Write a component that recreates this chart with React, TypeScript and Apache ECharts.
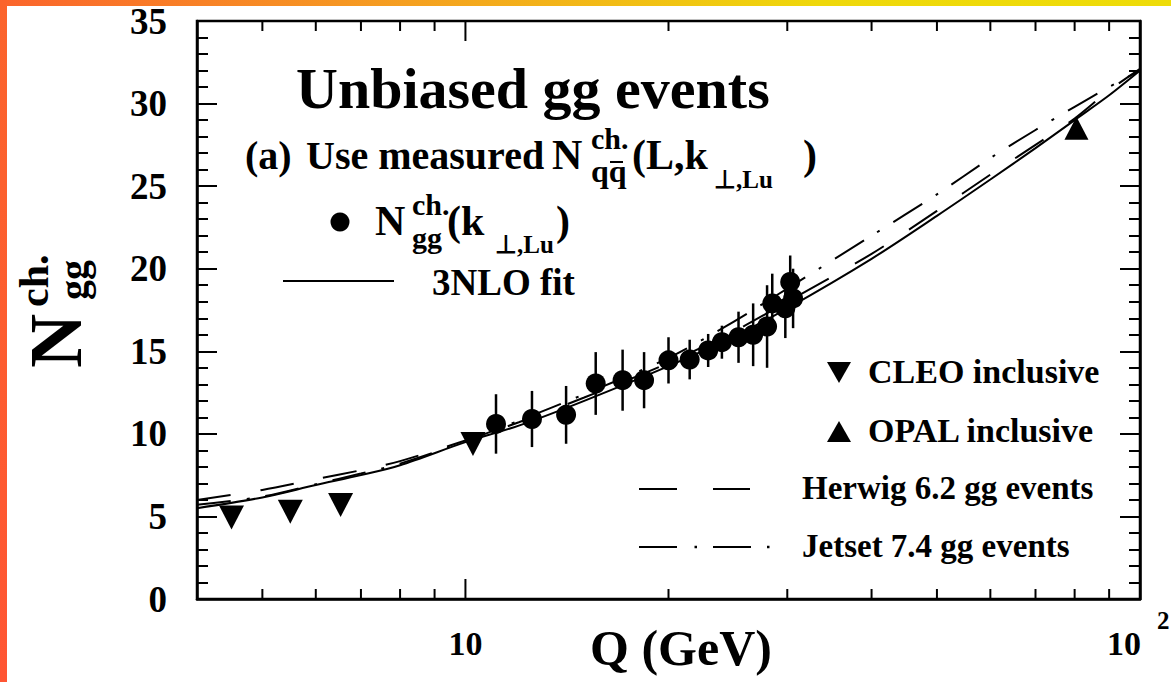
import React, { useEffect, useRef } from "react";
import * as echarts from "echarts";

// ---- data ----
const fitQ = [4, 5, 6, 7, 8, 10, 12, 15, 20, 25, 30, 40, 50, 60, 70, 80, 90, 100];
const fitN = [5.5, 6.15, 6.9, 7.5, 8.1, 9.5, 10.5, 12.0, 14.1, 15.9, 17.6, 20.6, 23.2, 25.4, 27.3, 29.0, 30.5, 32.0];
const herwigN = [6.0, 6.6, 7.25, 7.8, 8.35, 9.6, 10.7, 12.2, 14.3, 16.2, 18.0, 20.9, 23.5, 25.7, 27.5, 29.1, 30.8, 32.1];
const jetsetN = [5.7, 6.2, 6.95, 7.6, 8.2, 9.55, 10.8, 12.4, 14.6, 16.8, 18.8, 22.0, 24.5, 26.7, 28.4, 29.8, 31.0, 32.0];

const ggQ = [11.1, 12.55, 14.1, 15.6, 17.1, 18.4, 20.0, 21.5, 22.9, 24.0, 25.4, 26.7, 28.0, 28.5, 29.8, 30.3, 30.6];
const ggN = [10.6, 10.9, 11.15, 13.05, 13.25, 13.25, 14.45, 14.5, 15.05, 15.55, 15.85, 16.0, 16.5, 17.9, 17.6, 19.2, 18.2];
const ggErr = [1.8, 1.7, 1.75, 1.9, 1.85, 1.7, 1.4, 1.2, 1.0, 1.0, 1.55, 1.9, 2.5, 1.8, 1.8, 1.6, 1.8];

const cleoQ = [4.5, 5.5, 6.53, 10.26];
const cleoN = [4.94, 5.29, 5.69, 9.39];
const opalQ = [80.5];
const opalN = [28.5];

const xMinorTicks = [5, 6, 7, 8, 9, 20, 30, 40, 50, 60, 70, 80, 90];
const xMajorTicks = [10];

const FONT = '"Liberation Serif", "Times New Roman", serif';

function txt(text: string, x: number, y: number, size: number, extra: any = {}) {
  return {
    type: "text",
    x,
    y,
    silent: true,
    z: 100,
    style: {
      text,
      fill: "#000",
      fontFamily: FONT,
      fontWeight: "bold",
      fontSize: size,
      textAlign: "left",
      textVerticalAlign: "middle",
      ...extra,
    },
  };
}
function seg(x1: number, y1: number, x2: number, y2: number, w = 2) {
  return {
    type: "line",
    silent: true,
    z: 100,
    shape: { x1, y1, x2, y2 },
    style: { stroke: "#000", lineWidth: w },
  };
}

export default function App() {
  const ref = useRef<HTMLDivElement>(null);
  useEffect(() => {
    const chart = echarts.init(ref.current!, null, { renderer: "svg" });
    const black = "#000";
    const labelFont = { fontFamily: FONT, fontWeight: "bold", fontSize: 34, color: black };
    const yAxisCommon = {
      type: "value",
      min: 0,
      max: 35,
      interval: 5,
      splitLine: { show: false },
      axisLine: { show: true, lineStyle: { color: black, width: 2.5 } },
      axisTick: { show: true, inside: true, length: 20, lineStyle: { color: black, width: 2 } },
      minorTick: { show: true, splitNumber: 5, length: 11, lineStyle: { color: black, width: 2 } },
    };
    const option: any = {
      animation: false,
      backgroundColor: "#fff",
      grid: {
        left: 197,
        right: 31,
        top: 21,
        bottom: 83,
        containLabel: false,
        outerBoundsMode: "none",
        show: true,
        borderColor: black,
        borderWidth: 2.5,
        backgroundColor: "transparent",
      },
      xAxis: {
        type: "log",
        logBase: 10,
        min: 4,
        max: 100,
        splitLine: { show: false },
        axisLine: { show: true, lineStyle: { color: black, width: 2.5 } },
        axisTick: { show: false },
        minorTick: { show: false },
        axisLabel: {
          margin: 27,
          ...labelFont,
          showMinLabel: true,
          showMaxLabel: true,
          formatter: (v: number) =>
            Math.abs(v - 10) < 1e-6 ? "{n|10}" : Math.abs(v - 100) < 1e-6 ? "{m|10}" : "",
          rich: {
            n: { ...labelFont },
            m: { ...labelFont, padding: [0, 32, 0, 0] },
          },
        },
      },
      yAxis: [
        {
          ...yAxisCommon,
          position: "left",
          axisLabel: {
            margin: 30,
            color: black,
            fontFamily: FONT,
            fontWeight: "bold",
            fontSize: 37,
          },
        },
        {
          ...yAxisCommon,
          position: "right",
          axisLabel: { show: false },
        },
      ],
      series: [
        {
          name: "3NLO fit",
          type: "line",
          data: fitQ.map((q, i) => [q, fitN[i]]),
          smooth: 0.3,
          showSymbol: false,
          symbol: "none",
          lineStyle: { color: black, width: 2 },
          z: 3,
        },
        {
          name: "Herwig 6.2 gg events",
          type: "line",
          data: fitQ.map((q, i) => [q, herwigN[i]]),
          smooth: 0.3,
          showSymbol: false,
          symbol: "none",
          lineStyle: { color: black, width: 2, type: [34, 30] },
          z: 3,
        },
        {
          name: "Jetset 7.4 gg events",
          type: "line",
          data: fitQ.map((q, i) => [q, jetsetN[i]]),
          smooth: 0.3,
          showSymbol: false,
          symbol: "none",
          lineStyle: { color: black, width: 2, type: [34, 16, 3, 16] },
          z: 3,
        },
        {
          name: "errors",
          type: "custom",
          data: ggQ.map((q, i) => [q, ggN[i] - ggErr[i], ggN[i] + ggErr[i]]),
          encode: { x: 0, y: [1, 2] },
          renderItem: (params: any, api: any) => {
            const lo = api.coord([api.value(0), api.value(1)]);
            const hi = api.coord([api.value(0), api.value(2)]);
            return {
              type: "line",
              shape: { x1: lo[0], y1: lo[1], x2: hi[0], y2: hi[1] },
              style: { stroke: black, lineWidth: 2.5 },
            };
          },
          z: 4,
        },
        {
          name: "Ngg",
          type: "scatter",
          data: ggQ.map((q, i) => [q, ggN[i]]),
          symbol: "circle",
          symbolSize: 20,
          itemStyle: { color: black, opacity: 1 },
          z: 5,
        },
        {
          name: "CLEO inclusive",
          type: "scatter",
          data: cleoQ.map((q, i) => [q, cleoN[i]]),
          symbol: "triangle",
          symbolRotate: 180,
          symbolSize: [25, 24],
          itemStyle: { color: black, opacity: 1 },
          z: 5,
        },
        {
          name: "OPAL inclusive",
          type: "scatter",
          data: opalQ.map((q, i) => [q, opalN[i]]),
          symbol: "triangle",
          symbolSize: [24, 23],
          itemStyle: { color: black, opacity: 1 },
          z: 5,
        },
        {
          name: "xticks",
          type: "custom",
          silent: true,
          clip: false,
          data: [
            ...xMinorTicks.map((q) => [q, 10]),
            ...xMajorTicks.map((q) => [q, 20]),
          ],
          encode: { x: 0 },
          renderItem: (params: any, api: any) => {
            const q = api.value(0);
            const len = api.value(1);
            const b = api.coord([q, 0]);
            const t = api.coord([q, 35]);
            return {
              type: "group",
              children: [
                {
                  type: "line",
                  shape: { x1: b[0], y1: b[1], x2: b[0], y2: b[1] - len },
                  style: { stroke: black, lineWidth: 2 },
                },
                {
                  type: "line",
                  shape: { x1: t[0], y1: t[1], x2: t[0], y2: t[1] + len },
                  style: { stroke: black, lineWidth: 2 },
                },
              ],
            };
          },
          z: 6,
        },
      ],
      graphic: [
        // frame decoration
        {
          type: "rect",
          silent: true,
          z: 200,
          shape: { x: 0, y: 0, width: 1171, height: 6 },
          style: {
            fill: new echarts.graphic.LinearGradient(0, 0, 1, 0, [
              { offset: 0, color: "#fb642c" },
              { offset: 0.35, color: "#f5a020" },
              { offset: 0.7, color: "#efd80a" },
              { offset: 1, color: "#eedc08" },
            ]),
          },
        },
        {
          type: "rect",
          silent: true,
          z: 200,
          shape: { x: 0, y: 0, width: 7, height: 682 },
          style: {
            fill: new echarts.graphic.LinearGradient(0, 0, 0, 1, [
              { offset: 0, color: "#fb642c" },
              { offset: 1, color: "#ff5533" },
            ]),
          },
        },
        // superscript of the 10^2 tick label
        txt("2", 1157, 620, 25),
        // x axis title
        txt("Q (GeV)", 590, 648, 50),
        // y axis title N^{ch.}_{gg}
        {
          type: "group",
          x: 55,
          y: 368,
          rotation: Math.PI / 2,
          silent: true,
          children: [
            txt("N", 0, 0, 75),
            txt("ch.", 61, -21, 42),
            txt("gg", 68, 18, 40),
          ],
        },
        // titles
        txt("Unbiased gg events", 296, 88, 58),
        txt("(a)", 245, 155, 40),
        txt("Use measured", 306, 155, 40),
        txt("N", 552, 155, 42),
        txt("ch.", 591, 138, 30),
        txt("qq", 591, 171, 32),
        seg(610, 162, 623, 162, 2),
        txt("(L,k", 632, 155, 42),
        txt("⊥,Lu", 714, 179, 25),
        txt(")", 803, 155, 42),
        // upper legend
        {
          type: "circle",
          silent: true,
          z: 100,
          shape: { cx: 340, cy: 222, r: 9.5 },
          style: { fill: "#000" },
        },
        txt("N", 375, 221, 42),
        txt("ch.", 412, 204, 30),
        txt("gg", 412, 237, 30),
        txt("(k", 447, 221, 42),
        txt("⊥,Lu", 495, 244, 25),
        txt(")", 556, 221, 42),
        seg(283, 281, 394, 281, 2),
        txt("3NLO fit", 432, 282, 37),
        // lower-right legend
        {
          type: "polygon",
          silent: true,
          z: 100,
          shape: { points: [[827, 362], [851, 362], [839, 383]] },
          style: { fill: "#000" },
        },
        txt("CLEO inclusive", 868, 371, 34),
        {
          type: "polygon",
          silent: true,
          z: 100,
          shape: { points: [[839, 421], [851, 442], [827, 442]] },
          style: { fill: "#000" },
        },
        txt("OPAL inclusive", 868, 430, 34),
        seg(639, 489, 677, 489, 2),
        seg(713, 489, 750, 489, 2),
        txt("Herwig 6.2 gg events", 802, 488, 33),
        seg(639, 547, 677, 547, 2),
        seg(694.5, 547, 697, 547, 2.5),
        seg(713, 547, 751, 547, 2),
        seg(767, 547, 769.5, 547, 2.5),
        txt("Jetset 7.4 gg events", 802, 546, 33),
      ],
    };
    chart.setOption(option);
    return () => chart.dispose();
  }, []);
  return (
    <div
      ref={ref}
      style={{ position: "absolute", left: 0, top: 0, width: 1171, height: 682, background: "#fff" }}
    />
  );
}
